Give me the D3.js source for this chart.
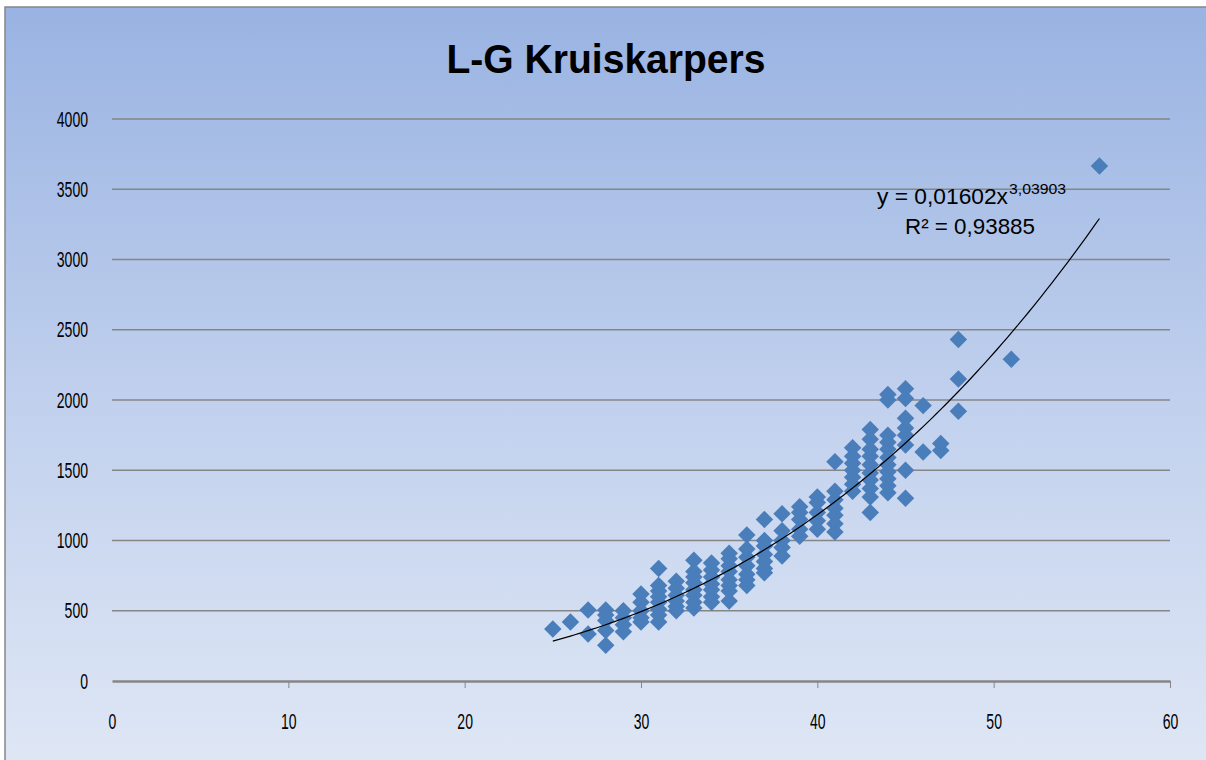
<!DOCTYPE html>
<html>
<head>
<meta charset="utf-8">
<script src="https://cdn.jsdelivr.net/npm/d3@7"></script>
<style>
  body { margin: 0; background: #fff; }
  svg text { font-family: "Liberation Sans", Arial, sans-serif; }
</style>
</head>
<body>
<div id="chart"></div>
<script>
// lengte (cm) per meetkolom
var lengths = [25, 26, 27, 28, 29, 30, 31, 32, 33, 34, 35, 36, 37, 38, 39, 40,
               41, 42, 43, 44, 45, 46, 47, 48, 51, 56];

// gewichten (g) per lengte, zelfde volgorde als lengths
var weights = [
    [370],
    [420],
    [505, 335],
    [505, 470, 430, 360, 255],
    [500, 450, 400, 350],
    [620, 560, 500, 450, 420],
    [800, 680, 640, 600, 560, 510, 470, 420],
    [710, 660, 610, 570, 530, 500],
    [860, 780, 740, 700, 650, 610, 560, 520],
    [840, 790, 740, 690, 650, 600, 560],
    [910, 870, 820, 780, 720, 680, 640, 570],
    [1040, 940, 880, 820, 760, 720, 680],
    [1150, 1000, 960, 900, 850, 800, 770],
    [1190, 1070, 1000, 950, 890],
    [1240, 1200, 1150, 1080, 1030],
    [1310, 1270, 1200, 1140, 1080],
    [1560, 1350, 1290, 1230, 1180, 1120, 1060],
    [1660, 1600, 1550, 1500, 1450, 1400, 1350],
    [1790, 1720, 1650, 1600, 1540, 1480, 1430, 1370, 1310, 1200],
    [2040, 2000, 1750, 1700, 1650, 1590, 1540, 1490, 1440, 1390, 1340],
    [2080, 2010, 1870, 1800, 1750, 1680, 1500, 1300],
    [1960, 1630],
    [1690, 1640],
    [2430, 2150, 1920],
    [2290],
    [3665]
];

var xTicks = [0, 10, 20, 30, 40, 50, 60];
var yTicks = [0, 500, 1000, 1500, 2000, 2500, 3000, 3500, 4000];

// machtstrendlijn y = a * x^b
var trendA = 0.01602, trendB = 3.03903;
var trendX = [25, 56];

var points = [];
lengths.forEach(function(l, i) {
    weights[i].forEach(function(w) { points.push({x: l, y: w}); });
});

var W = 1206, H = 760;
var margin = {top: 119, right: 36, bottom: 79, left: 112},
    width = W - margin.left - margin.right,
    height = H - margin.top - margin.bottom;

var svg = d3.select('#chart')
    .append('svg')
        .attr('width', W)
        .attr('height', H);

var defs = svg.append('defs');
var grad = defs.append('linearGradient')
    .attr('id', 'bg')
    .attr('x1', 0).attr('y1', 0).attr('x2', 0).attr('y2', 1);
grad.append('stop').attr('offset', '0%').attr('stop-color', '#99b3e2');
grad.append('stop').attr('offset', '55%').attr('stop-color', '#c3d2ee');
grad.append('stop').attr('offset', '100%').attr('stop-color', '#dfe7f5');

svg.append('rect')
    .attr('x', 5).attr('y', 7)
    .attr('width', W).attr('height', H)
    .attr('fill', 'url(#bg)')
    .attr('stroke', '#868686')
    .attr('stroke-width', 1.5);

// smalle letters zoals Calibri
function narrow(sel, perChar) {
    sel.each(function() {
        var t = d3.select(this);
        t.attr('textLength', t.text().length * perChar)
         .attr('lengthAdjust', 'spacingAndGlyphs');
    });
}

svg.append('text')
    .attr('x', 606).attr('y', 73)
    .attr('text-anchor', 'middle')
    .attr('textLength', 319)
    .attr('lengthAdjust', 'spacingAndGlyphs')
    .style('font-size', '41px')
    .style('font-weight', 'bold')
    .attr('fill', '#000')
    .text('L-G Kruiskarpers');

var g = svg.append('g')
    .attr('transform', 'translate(' + margin.left + ',' + margin.top + ')');

var x = d3.scaleLinear().domain([0, 60]).range([0, width]);
var y = d3.scaleLinear().domain([0, 4000]).range([height, 0]);

// gridlines
g.append('g')
    .selectAll('line')
    .data(yTicks.slice(1))
    .enter()
    .append('line')
        .attr('x1', 0).attr('x2', width)
        .attr('y1', function(d) { return y(d); })
        .attr('y2', function(d) { return y(d); })
        .attr('stroke', '#868686')
        .attr('stroke-width', 1.5);

// Y axis (labels only)
var yAxis = g.append('g')
    .call(d3.axisLeft(y).tickValues(yTicks).tickFormat(d3.format('d')).tickSize(0).tickPadding(24));
yAxis.select('.domain').remove();
yAxis.selectAll('text').style('font-size', '22px').attr('fill', '#000').call(narrow, 7.8);

// X axis
var xAxis = g.append('g')
    .attr('transform', 'translate(0,' + height + ')')
    .call(d3.axisBottom(x).tickValues(xTicks).tickFormat(d3.format('d'))
        .tickSizeInner(7).tickSizeOuter(0).tickPadding(25));
xAxis.select('.domain').attr('stroke', '#868686').attr('stroke-width', 2.5);
xAxis.selectAll('.tick line').attr('stroke', '#868686').attr('stroke-width', 1)
    .attr('display', function(d) { return d === 0 ? 'none' : null; });
xAxis.selectAll('text').style('font-size', '22px').attr('fill', '#000').call(narrow, 7.8);

// markers
var diamond = d3.symbol().type(d3.symbolDiamond2).size(195);
g.append('g')
    .selectAll('path')
    .data(points)
    .enter()
    .append('path')
        .attr('d', diamond)
        .attr('transform', function(d) { return 'translate(' + x(d.x) + ',' + y(d.y) + ')'; })
        .attr('fill', '#4a7ebb');

// trendline
var trendData = d3.range(trendX[0], trendX[1] + 0.01, 0.25).map(function(v) {
    return [v, trendA * Math.pow(v, trendB)];
});
g.append('path')
    .datum(trendData)
    .attr('fill', 'none')
    .attr('stroke', '#000')
    .attr('stroke-width', 1.2)
    .attr('d', d3.line()
        .x(function(d) { return x(d[0]); })
        .y(function(d) { return y(d[1]); }));

// vergelijking
svg.append('text')
    .attr('x', 877).attr('y', 204)
    .attr('textLength', 131)
    .attr('lengthAdjust', 'spacingAndGlyphs')
    .style('font-size', '22px')
    .attr('fill', '#000')
    .text('y = 0,01602x');
svg.append('text')
    .attr('x', 1009).attr('y', 194)
    .attr('textLength', 57)
    .attr('lengthAdjust', 'spacingAndGlyphs')
    .style('font-size', '14px')
    .attr('fill', '#000')
    .text('3,03903');
svg.append('text')
    .attr('x', 905).attr('y', 234)
    .attr('textLength', 130)
    .attr('lengthAdjust', 'spacingAndGlyphs')
    .style('font-size', '22px')
    .attr('fill', '#000')
    .text('R² = 0,93885');
</script>
</body>
</html>
